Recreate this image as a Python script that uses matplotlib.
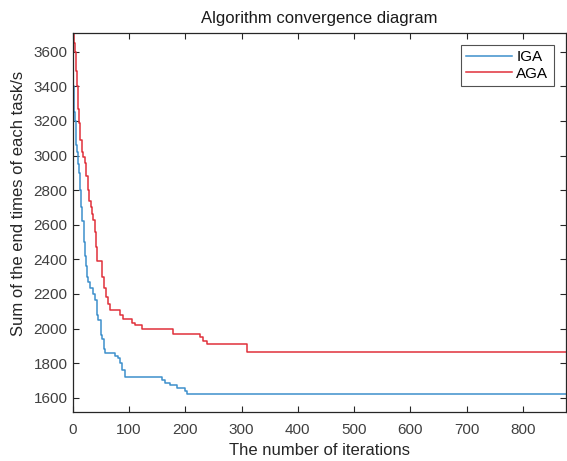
import matplotlib.pyplot as plt

# step change points (iteration, value)
iga_iter = [0, 1, 2, 3, 4, 6, 7, 9, 11, 13, 15, 17, 20, 22, 24, 26, 28, 31, 37, 40,
            43, 46, 50, 52, 55, 57, 75, 81, 84, 87, 93, 158, 165, 173, 185, 200, 203, 876]
iga_val = [3440, 3400, 3320, 3250, 3200, 3060, 3020, 2950, 2900, 2800, 2700, 2620, 2500,
           2420, 2360, 2300, 2270, 2235, 2200, 2167, 2080, 2050, 1960, 1940, 1880, 1860,
           1840, 1830, 1800, 1760, 1720, 1700, 1687, 1675, 1658, 1640, 1620, 1620]

aga_iter = [0, 2, 4, 6, 8, 10, 12, 14, 16, 18, 22, 24, 27, 30, 33, 35, 37, 40, 42, 44,
            52, 53, 55, 60, 63, 66, 84, 90, 105, 110, 123, 178, 226, 232, 238, 310, 876]
aga_val = [3710, 3650, 3600, 3490, 3400, 3270, 3190, 3090, 3020, 2990, 2955, 2880, 2800,
           2740, 2700, 2660, 2630, 2560, 2470, 2390, 2370, 2300, 2236, 2180, 2140, 2110,
           2080, 2055, 2030, 2020, 1995, 1967, 1950, 1930, 1910, 1862, 1862]

plt.rcParams['font.family'] = ['Liberation Sans', 'DejaVu Sans']

fig = plt.figure(figsize=(5.67, 4.61), dpi=100)
ax = fig.add_axes([0.128, 0.106, 0.870, 0.823])

ax.step(iga_iter, iga_val, where='post', color='#3d8fcc', lw=1.1, label='IGA')
ax.step(aga_iter, aga_val, where='post', color='#e0303a', lw=1.1, label='AGA')

ax.set_xlim(0, 876)
ax.set_ylim(1517, 3710)
ax.set_xticks(range(0, 801, 100))
ax.set_yticks(range(1600, 3601, 200))
ax.tick_params(direction='in', top=True, right=True, labelsize=11,
               colors='#262626', labelcolor='#404040', length=4)
ax.tick_params(axis='x', pad=8)
for s in ax.spines.values():
    s.set_color('#262626')
    s.set_linewidth(0.9)

ax.set_title('Algorithm convergence diagram', fontsize=12, color='#1a1a1a', pad=7)
ax.set_xlabel('The number of iterations', fontsize=12, color='#262626')
ax.xaxis.set_label_coords(0.5, -0.082)
ax.set_ylabel('Sum of the end times of each task/s', fontsize=12, color='#262626')
ax.yaxis.set_label_coords(-0.095, 0.55)

leg = ax.legend(loc='upper right', fontsize=11, handlelength=3.0, handletextpad=0.3,
                fancybox=False, edgecolor='#262626', borderaxespad=0.8,
                labelspacing=0.15, borderpad=0.35)
leg.get_frame().set_linewidth(0.8)

fig.savefig('out.png', dpi=100)
